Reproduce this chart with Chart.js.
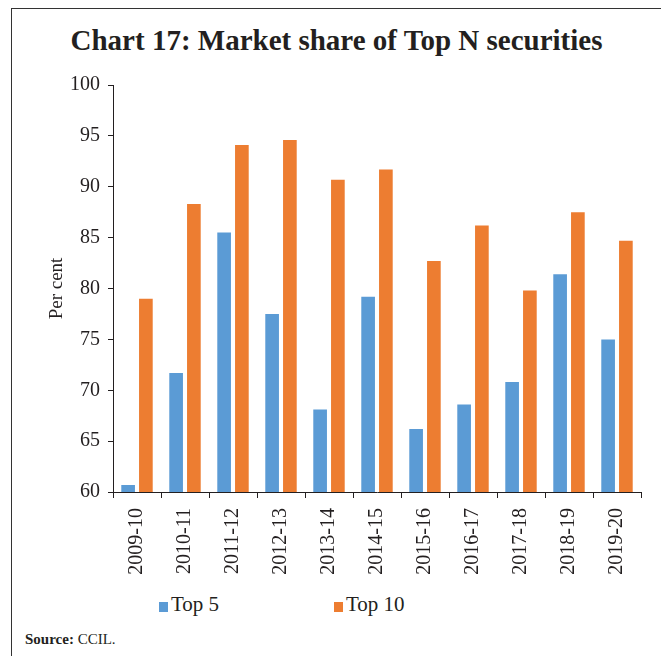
<!DOCTYPE html>
<html>
<head>
<meta charset="utf-8">
<script src="https://cdn.jsdelivr.net/npm/chart.js@4.4.1/dist/chart.umd.min.js"></script>
<style>
  body { margin: 0; width: 661px; height: 656px; background: #fff; position: relative; overflow: hidden;
         font-family: "Liberation Serif", serif; color: #231f20; }
  #frame { position: absolute; left: 11px; top: 8px; width: 660px; height: 660px;
           border-left: 1.5px solid #333; border-top: 1.5px solid #333; }
  #title { position: absolute; left: 12px; width: 649px; top: 24px; text-align: center;
           font-weight: bold; font-size: 29px; }
  #wrap { position: absolute; left: 12px; top: 60px; width: 649px; height: 522px; }
  .leg { position: absolute; top: 592px; font-size: 21px; line-height: 24px; white-space: nowrap; }
  .leg span.box { display: inline-block; width: 9px; height: 10px; margin-right: 3px; vertical-align: -1px; }
  #source { position: absolute; left: 25px; top: 631px; font-size: 15px; }
</style>
</head>
<body>
<div id="frame"></div>
<div id="title">Chart 17: Market share of Top N securities</div>
<div id="wrap"><canvas id="chart"></canvas></div>
<div id="legend"></div>
<div id="source"><b>Source:</b> CCIL.</div>
<script>
const years = ['2009-10', '2010-11', '2011-12', '2012-13', '2013-14', '2014-15',
               '2015-16', '2016-17', '2017-18', '2018-19', '2019-20'];
const top5 = [60.7, 71.7, 85.5, 77.5, 68.1, 79.2, 66.2, 68.6, 70.8, 81.4, 75.0];
const top10 = [79.0, 88.3, 94.1, 94.6, 90.7, 91.7, 82.7, 86.2, 79.8, 87.5, 84.7];
const seriesNames = ['Top 5', 'Top 10'];
const yTicks = [60, 65, 70, 75, 80, 85, 90, 95, 100];

const ink = '#231f20';
const serif = '"Liberation Serif", serif';

const ctx = document.getElementById('chart').getContext('2d');
const chart = new Chart(ctx, {
    type: 'bar',
    data: {
        labels: years,
        datasets: [{
            label: seriesNames[0],
            data: top5,
            backgroundColor: '#5B9BD5'
        }, {
            label: seriesNames[1],
            data: top10,
            backgroundColor: '#ED7D31'
        }]
    },
    options: {
        responsive: true,
        maintainAspectRatio: false,
        animation: false,
        categoryPercentage: 0.74,
        barPercentage: 0.77,
        layout: { padding: { top: 25, right: 20, bottom: 0, left: 0 } },
        plugins: {
            legend: { display: false },
            tooltip: { enabled: false }
        },
        scales: {
            x: {
                grid: { drawOnChartArea: false, drawTicks: true, tickLength: 6, color: ink, offset: true },
                border: { display: true, color: ink, width: 1 },
                ticks: { color: ink, font: { family: serif, size: 20 }, minRotation: 90, maxRotation: 90, padding: 10 },
                afterFit: function(scale) { scale.height = 90; }
            },
            y: {
                min: yTicks[0],
                max: yTicks[yTicks.length - 1],
                afterBuildTicks: function(scale) { scale.ticks = yTicks.map(v => ({ value: v })); },
                grid: { drawOnChartArea: false, drawTicks: true, tickLength: 5, color: ink },
                border: { display: true, color: ink, width: 1 },
                ticks: { color: ink, font: { family: serif, size: 20 }, padding: 8 },
                title: { display: true, text: 'Per cent', color: ink, font: { family: serif, size: 19 }, padding: { top: 34, bottom: 0 } },
                afterFit: function(scale) { scale.width = 101; }
            }
        }
    }
});

// html legend built from chart's own legend items
const legendLeft = [159, 334];
const items = chart.options.plugins.legend.labels.generateLabels(chart);
const legendBox = document.getElementById('legend');
items.forEach(function(item, i) {
    const el = document.createElement('div');
    el.className = 'leg';
    el.style.left = legendLeft[i] + 'px';
    const box = document.createElement('span');
    box.className = 'box';
    box.style.background = item.fillStyle;
    el.appendChild(box);
    el.appendChild(document.createTextNode(item.text));
    legendBox.appendChild(el);
});
</script>
</body>
</html>
